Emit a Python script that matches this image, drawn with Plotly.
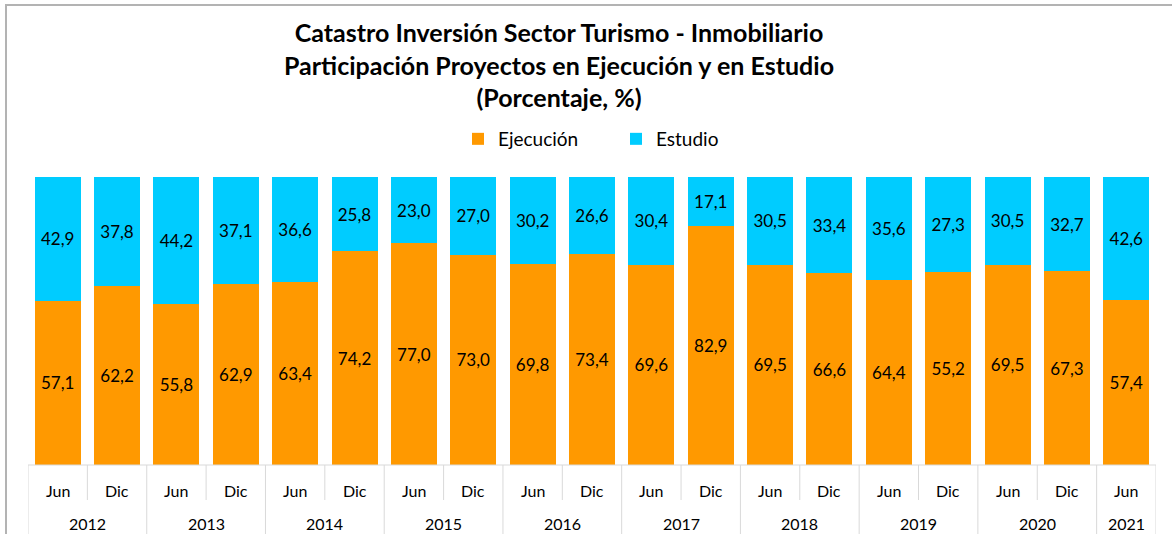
import plotly.graph_objects as go

periods = ["Jun", "Dic"] * 9 + ["Jun"]
years = ["2012", "2013", "2014", "2015", "2016", "2017", "2018", "2019", "2020", "2021"]
year_of_bar = [y for y in years[:-1] for _ in range(2)] + ["2021"]
ejecucion = [57.1, 62.2, 55.8, 62.9, 63.4, 74.2, 77.0, 73.0, 69.8, 73.4,
             69.6, 82.9, 69.5, 66.6, 64.4, 55.2, 69.5, 67.3, 57.4]
estudio = [42.9, 37.8, 44.2, 37.1, 36.6, 25.8, 23.0, 27.0, 30.2, 26.6,
           30.4, 17.1, 30.5, 33.4, 35.6, 27.3, 30.5, 32.7, 42.6]

FONT = "Lato"
ORANGE = "#FF9900"
CYAN = "#00CCFF"
GRID = "#D9D9D9"

x = list(range(len(periods)))

def fmt(v):
    return f"{v:.1f}".replace(".", ",")

fig = go.Figure()
fig.add_trace(go.Bar(
    x=x, y=ejecucion, name="Ejecución", marker=dict(color=ORANGE, line=dict(width=0)),
    text=[fmt(v) for v in ejecucion], textposition="inside", insidetextanchor="middle",
    textfont=dict(family=FONT, size=17, color="black"), constraintext="none",
    hoverinfo="skip"))
fig.add_trace(go.Bar(
    x=x, y=estudio, name="Estudio", marker=dict(color=CYAN, line=dict(width=0)),
    text=[fmt(v) for v in estudio], textposition="inside", insidetextanchor="middle",
    textfont=dict(family=FONT, size=17, color="black"), constraintext="none",
    hoverinfo="skip"))

shapes = []
shapes.append(dict(type="line", xref="x", yref="paper", x0=-0.5, x1=len(x) - 0.5,
                   y0=0, y1=0, line=dict(color=GRID, width=1)))
for i in range(len(x) + 1):
    b = i - 0.5
    if i == 0 or i == len(x):
        long_line = True
    else:
        long_line = year_of_bar[i] != year_of_bar[i - 1]
    shapes.append(dict(type="line", xref="x", yref="paper", ysizemode="pixel", yanchor=0,
                       x0=b, x1=b, y0=0, y1=-80 if long_line else -35,
                       line=dict(color=GRID, width=1)))
shapes.append(dict(type="rect", xref="paper", yref="paper",
                   x0=-0.0195, x1=1.2, y0=-0.5, y1=1.597,
                   line=dict(color="#B3B3B3", width=2), fillcolor="rgba(0,0,0,0)"))

annotations = []
for i, p in enumerate(periods):
    annotations.append(dict(x=i, y=0, xref="x", yref="paper", yshift=-25, text=p,
                            showarrow=False, yanchor="middle",
                            font=dict(family=FONT, size=16, color="black")))
for yr in years:
    idx = [i for i, v in enumerate(year_of_bar) if v == yr]
    annotations.append(dict(x=sum(idx) / len(idx), y=0, xref="x", yref="paper", yshift=-58,
                            text=yr, showarrow=False, yanchor="middle",
                            font=dict(family=FONT, size=16, color="black")))

fig.update_layout(
    width=1172, height=534,
    barmode="stack", barnorm="percent", bargap=0.225,
    paper_bgcolor="white", plot_bgcolor="white",
    margin=dict(l=28, r=16, t=177, b=69),
    title=dict(
        text="<b>Catastro Inversión Sector Turismo - Inmobiliario<br>"
             "Participación Proyectos en Ejecución y en Estudio<br>(Porcentaje, %)</b>",
        x=559 / 1172, xanchor="center", xref="container",
        y=1 - 42 / 534, yanchor="top",
        font=dict(family=FONT, size=25, color="black")),
    legend=dict(orientation="h", x=(458 - 28) / 1128, xanchor="left", y=1.132, yanchor="middle",
                font=dict(family=FONT, size=19, color="black"), traceorder="normal",
                entrywidth=113, entrywidthmode="pixels"),
    xaxis=dict(range=[-0.5, len(x) - 0.5], showticklabels=False, showgrid=False,
               zeroline=False, showline=False, ticks=""),
    yaxis=dict(range=[0, 100], visible=False),
    shapes=shapes, annotations=annotations,
    showlegend=True,
)

fig.write_html("out.html", config={"displayModeBar": False},
               post_script="document.body.style.margin='0';")
